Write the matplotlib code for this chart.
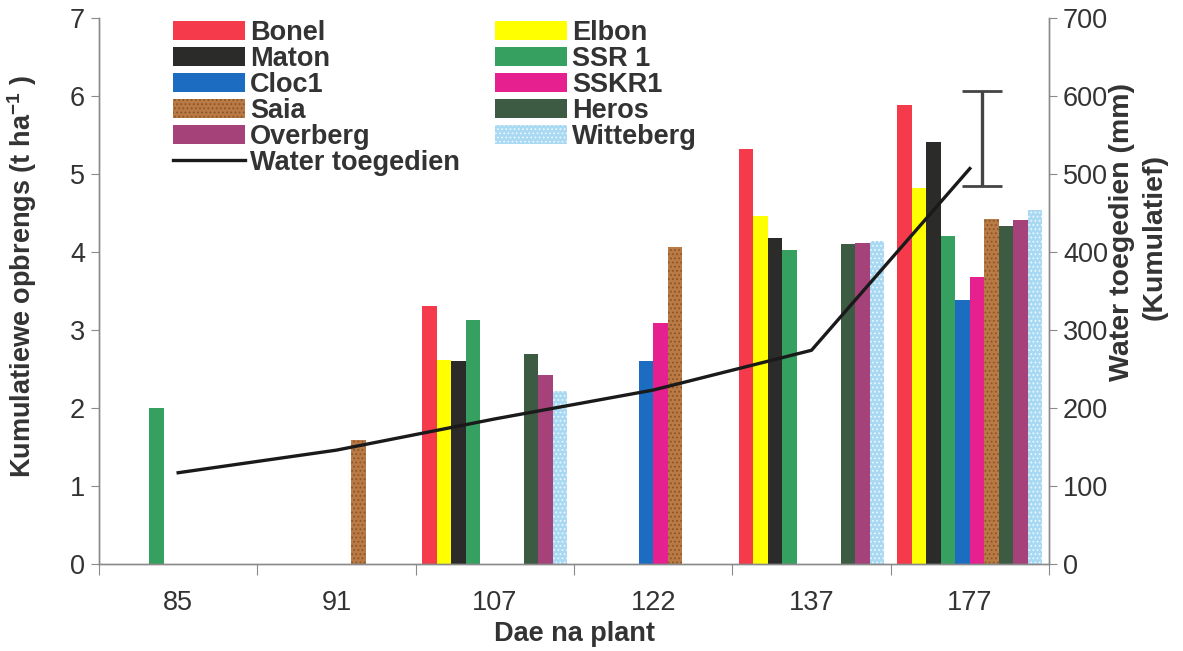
import numpy as np
import matplotlib
matplotlib.use("Agg")
import matplotlib.pyplot as plt

plt.rcParams['font.family'] = ['Liberation Sans', 'DejaVu Sans']
plt.rcParams['mathtext.fontset'] = 'custom'
plt.rcParams['mathtext.rm'] = 'Liberation Sans'
plt.rcParams['mathtext.bf'] = 'Liberation Sans:bold'
plt.rcParams['hatch.linewidth'] = 0.8

# Days after planting (categories) and cumulative yield per cultivar (t/ha)
days = ['85', '91', '107', '122', '137', '177']
nan = np.nan
cultivars = ['Bonel', 'Elbon', 'Maton', 'SSR 1', 'Cloc1',
             'SSKR1', 'Saia', 'Heros', 'Overberg', 'Witteberg']
bonel = [nan, nan, 3.31, nan, 5.32, 5.88]
elbon = [nan, nan, 2.62, nan, 4.46, 4.82]
maton = [nan, nan, 2.60, nan, 4.18, 5.41]
ssr1 = [2.00, nan, 3.13, nan, 4.02, 4.21]
cloc1 = [nan, nan, nan, 2.60, nan, 3.38]
sskr1 = [nan, nan, nan, 3.09, nan, 3.68]
saia = [nan, 1.59, nan, 4.07, nan, 4.42]
heros = [nan, nan, 2.69, nan, 4.10, 4.33]
overberg = [nan, nan, 2.42, nan, 4.12, 4.41]
witteberg = [nan, nan, 2.22, nan, 4.14, 4.54]

# cumulative water applied (mm) and the LSD bar
water = [117, 146, 186, 223, 274, 507]
lsd_mid = 545
lsd_half = 61

series = [bonel, elbon, maton, ssr1, cloc1, sskr1, saia, heros, overberg, witteberg]
colors = ['#f53a4c', '#ffff00', '#2b2b29', '#35a060', '#1c6cc2',
          '#e6208e', '#b97a45', '#3c5b42', '#a6427a', '#a9d9f2']
hatches = [None, None, None, None, None, None, '....', None, None, '....']
hatch_cols = [None, None, None, None, None, None, '#8a5528', None, None, '#e8f6ff']

txt = '#333333'
axcol = '#8a8a8a'
fs = 19.5

fig = plt.figure(figsize=(11.83, 6.51), dpi=100)
ax = fig.add_axes([99/1183, 1 - 564/651, 950/1183, 546/651])
ax2 = ax.twinx()

x = np.arange(len(days))
w = 0.0916
handles = {}
for j, (name, vals) in enumerate(zip(cultivars, series)):
    kw = dict(color=colors[j], linewidth=0)
    if hatches[j]:
        kw.update(hatch=hatches[j], edgecolor=hatch_cols[j])
    b = ax.bar(x + (j - 4.5) * w, vals, w, label=name, **kw)
    handles[name] = b

line, = ax2.plot(x, water, color='#1a1a1a', lw=2.4, label='Water toegedien')
ax2.errorbar([5.078], [lsd_mid], yerr=[lsd_half], color='#444444',
             lw=2.4, capsize=14.5, capthick=2.0)

ax.set_xlim(-0.5, 5.5)
ax.set_ylim(0, 7)
ax2.set_ylim(0, 700)
ax.set_yticks(range(0, 8))
ax2.set_yticks(range(0, 701, 100))

# category boundaries get the tick marks, centres get the labels
ax.set_xticks(np.arange(-0.5, 6, 1))
ax.set_xticklabels([])
ax.set_xticks(x, minor=True)
ax.set_xticklabels(days, minor=True)
ax.tick_params(axis='x', which='major', length=8, direction='out', color=axcol)
ax.tick_params(axis='x', which='minor', length=0, pad=19, labelsize=fs, labelcolor=txt)
ax.tick_params(axis='y', length=6, color=axcol, pad=4, labelsize=fs, labelcolor=txt)
ax2.tick_params(axis='y', length=6, color=axcol, pad=4, labelsize=fs, labelcolor=txt)

for a in (ax, ax2):
    a.spines['top'].set_visible(False)
    for s in ('left', 'right', 'bottom'):
        a.spines[s].set_color(axcol)
        a.spines[s].set_linewidth(1.0)
ax2.patch.set_visible(False)

fig.text(22/1183, 1 - 276/651, r'Kumulatiewe opbrengs (t ha$^{\mathbf{-1}}$ )',
         rotation=90, ha='center', va='center', fontsize=fs,
         fontweight='bold', color=txt)
fig.text(574/1183, 1 - 634/651, 'Dae na plant', ha='center', va='center',
         fontsize=fs, fontweight='bold', color=txt)
fig.text(1122/1183, 1 - 232/651, 'Water toegedien (mm)', rotation=90,
         ha='center', va='center', fontsize=20.5, fontweight='bold', color=txt)
fig.text(1155/1183, 1 - 237/651, '(Kumulatief)', rotation=90,
         ha='center', va='center', fontsize=20.5, fontweight='bold', color=txt)

order = ['Bonel', 'Maton', 'Cloc1', 'Saia', 'Overberg', None,
         'Elbon', 'SSR 1', 'SSKR1', 'Heros', 'Witteberg']
hs, ls = [], []
for n in order:
    if n is None:
        hs.append(line)
        ls.append('Water toegedien')
    else:
        hs.append(handles[n])
        ls.append(n)
leg = fig.legend(hs, ls, ncol=2, loc='upper left',
                 bbox_to_anchor=(154/1183, 1 - 1/651), frameon=False,
                 prop={'weight': 'bold', 'size': fs}, labelcolor=txt,
                 handlelength=2.65, handleheight=0.72, handletextpad=0.2,
                 labelspacing=0.0, columnspacing=1.3, borderpad=0.2)

fig.savefig('out.png', dpi=100)
